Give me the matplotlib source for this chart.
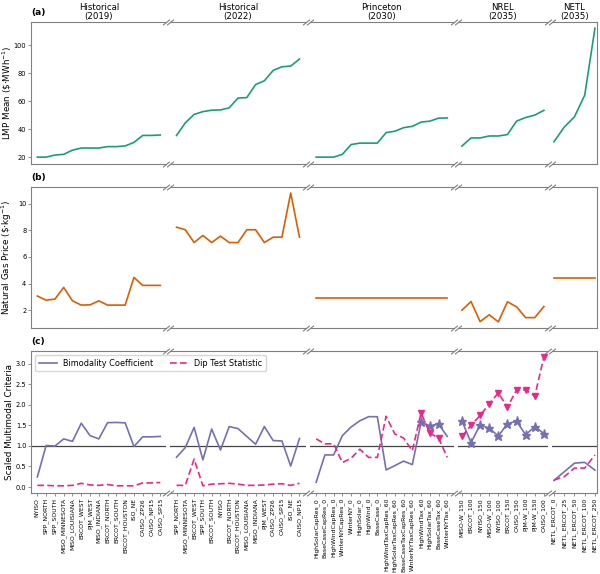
import numpy as np
import matplotlib.pyplot as plt
from matplotlib.lines import Line2D

titles = ['Historical\n(2019)', 'Historical\n(2022)', 'Princeton\n(2030)', 'NREL\n(2035)', 'NETL\n(2035)']

labels_2019 = ['NYISO', 'SPP_NORTH', 'SPP_SOUTH', 'MISO_MINNESOTA', 'MISO_LOUISIANA', 'ERCOT_WEST',
               'PJM_WEST', 'MISO_INDIANA', 'ERCOT_NORTH', 'ERCOT_SOUTH', 'ERCOT_HOUSTON', 'ISO_NE',
               'CAISO_ZP26', 'CAISO_NP15', 'CAISO_SP15']
labels_2022 = ['SPP_NORTH', 'MISO_MINNESOTA', 'ERCOT_WEST', 'SPP_SOUTH', 'ERCOT_SOUTH', 'NYISO',
               'ERCOT_NORTH', 'ERCOT_HOUSTON', 'MISO_LOUISIANA', 'MISO_INDIANA', 'PJM_WEST',
               'CAISO_ZP26', 'CAISO_SP15', 'ISO_NE', 'CAISO_NP15']
labels_princeton = ['HighSolarCapRes_0', 'BaseCaseCapRes_0', 'HighWindCapRes_0', 'WinterNYCapRes_0',
                    'WinterNY_0', 'HighSolar_0', 'HighWind_0', 'BaseCase_0', 'HighWindTaxCapRes_60',
                    'HighSolarTaxCapRes_60', 'BaseCaseTaxCapRes_60', 'WinterNYTaxCapRes_60',
                    'HighWindTax_60', 'HighSolarTax_60', 'BaseCaseTax_60', 'WinterNYTax_60']
labels_nrel = ['MISO-W_150', 'ERCOT_100', 'NYISO_150', 'MISO-W_100', 'NYISO_100', 'ERCOT_150',
               'CAISO_150', 'PJM-W_100', 'PJM-W_150', 'CAISO_100']
labels_netl = ['NETL_ERCOT_0', 'NETL_ERCOT_25', 'NETL_ERCOT_50', 'NETL_ERCOT_100', 'NETL_ERCOT_250']

# LMP mean
lmp_2019 = [20, 20, 21.5, 22, 25, 26.5, 26.5, 26.5, 27.5, 27.5, 28, 30.5, 35.5, 35.5, 35.8]
lmp_2022 = [35.5, 44.5, 50.5, 52.5, 53.5, 53.7, 55.2, 62.2, 62.5, 71.8, 74.5, 81.9, 84.5, 85, 90]
lmp_princeton = [20, 20, 20, 22, 29, 30, 30, 30, 37.5, 38.5, 41, 42, 45, 45.7, 47.8, 48]
lmp_nrel = [27.9, 33.7, 33.7, 35.1, 35.1, 36.1, 45.7, 48.3, 50, 53.4]
lmp_netl = [31, 41.4, 48.8, 64.2, 112]

# natural gas price
gas_2019 = [3.06, 2.75, 2.83, 3.71, 2.7, 2.38, 2.4, 2.7, 2.38, 2.38, 2.38, 4.46, 3.86, 3.86, 3.86]
gas_2022 = [8.23, 8.04, 7.08, 7.61, 7.08, 7.56, 7.08, 7.08, 8.04, 8.04, 7.08, 7.48, 7.48, 10.8, 7.48]
gas_princeton = [2.95] * 16
gas_nrel = [2.0, 2.65, 1.14, 1.65, 1.12, 2.63, 2.25, 1.44, 1.44, 2.27]
gas_netl = [4.41] * 5

# bimodality coefficient
bc_2019 = [0.245, 1.01, 0.995, 1.17, 1.11, 1.55, 1.25, 1.17, 1.565, 1.57, 1.56, 0.985, 1.22, 1.22, 1.23]
bc_2022 = [0.725, 0.96, 1.45, 0.66, 1.41, 0.9, 1.47, 1.42, 1.23, 1.04, 1.47, 1.13, 1.12, 0.51, 1.18]
bc_princeton = [0.115, 0.78, 0.78, 1.25, 1.46, 1.61, 1.71, 1.71, 0.415, 0.52, 0.63, 0.545,
                1.57, 1.49, 1.53, 1.23]
bc_nrel = [1.61, 1.08, 1.51, 1.43, 1.24, 1.54, 1.60, 1.27, 1.47, 1.30]
bc_netl = [0.16, 0.37, 0.58, 0.60, 0.41]

# dip test statistic
dip_2019 = [0.04, 0.04, 0.03, 0.03, 0.04, 0.09, 0.05, 0.04, 0.06, 0.03, 0.03, 0.03, 0.1, 0.1, 0.11]
dip_2022 = [0.04, 0.04, 0.68, 0.03, 0.07, 0.08, 0.09, 0.07, 0.04, 0.04, 0.05, 0.07, 0.08, 0.04, 0.09]
dip_princeton = [1.17, 1.05, 1.05, 0.595, 0.7, 0.92, 0.72, 0.72, 1.72, 1.29, 1.19, 0.88,
                 1.80, 1.31, 1.19, 0.72]
dip_nrel = [1.23, 1.50, 1.74, 2.02, 2.29, 1.94, 2.36, 2.36, 2.21, 3.16]
dip_netl = [0.17, 0.25, 0.46, 0.46, 0.78]

labels = [labels_2019, labels_2022, labels_princeton, labels_nrel, labels_netl]
lmp = [lmp_2019, lmp_2022, lmp_princeton, lmp_nrel, lmp_netl]
gas = [gas_2019, gas_2022, gas_princeton, gas_nrel, gas_netl]
bc = [bc_2019, bc_2022, bc_princeton, bc_nrel, bc_netl]
dip = [dip_2019, dip_2022, dip_princeton, dip_nrel, dip_netl]

c_lmp = '#1b9e77'
c_gas = '#d95f02'
c_bc = '#7570b3'
c_dip = '#e7298a'
spine_c = '#808080'

fig = plt.figure(figsize=(6, 5.74), dpi=100)
gs = fig.add_gridspec(3, 5, width_ratios=[len(l) for l in labels],
                      left=0.052, right=0.995, top=0.962, bottom=0.141,
                      hspace=0.162, wspace=0.036)

axes = np.empty((3, 5), dtype=object)
for r in range(3):
    for c in range(5):
        if c == 0:
            axes[r, c] = fig.add_subplot(gs[r, c])
        else:
            axes[r, c] = fig.add_subplot(gs[r, c], sharey=axes[r, 0])

tick_fs = 4.8
xtick_fs = 4.4
label_fs = 6.3
d = .8
brk = dict(marker=[(-1, -d), (1, d)], markersize=5, linestyle='none',
           color=spine_c, mec=spine_c, mew=0.8, clip_on=False)

for c in range(5):
    n = len(labels[c])
    x = np.arange(n)
    axes[0, c].plot(x, lmp[c], color=c_lmp, lw=1.2)
    axes[1, c].plot(x, gas[c], color=c_gas, lw=1.2)
    b = np.array(bc[c])
    p = np.array(dip[c])
    both = list((b > 1) & (p > 1))
    ax = axes[2, c]
    ax.axhline(1, color='#444444', lw=0.9, zorder=1)
    ax.plot(x, b, color=c_bc, lw=1.2, marker='*', markersize=6.5, markevery=both)
    ax.plot(x, p, color=c_dip, lw=1.2, ls='--', dashes=(4, 2), marker='v', markersize=5,
            markevery=both)
    ax.set_xticks(x)
    ax.set_xticklabels(labels[c], rotation=90, fontsize=xtick_fs)
    axes[0, c].set_title(titles[c], fontsize=6.2, pad=2, linespacing=1.0)

    for r in range(3):
        a = axes[r, c]
        a.margins(x=0.05)
        for s in a.spines.values():
            s.set_color(spine_c)
            s.set_linewidth(0.8)
        if c > 0:
            a.spines['left'].set_visible(False)
            a.tick_params(axis='y', left=False, labelleft=False)
            a.plot([0, 0], [0, 1], transform=a.transAxes, **brk)
        if c < 4:
            a.spines['right'].set_visible(False)
            a.plot([1, 1], [0, 1], transform=a.transAxes, **brk)
        a.tick_params(axis='y', labelsize=tick_fs, length=2, width=0.6, color=spine_c, pad=1.5)
        if r < 2:
            a.tick_params(axis='x', bottom=False, labelbottom=False)
        else:
            a.tick_params(axis='x', length=2, width=0.6, color=spine_c, pad=1.5)

axes[2, 0].set_ylim(-0.147, 3.30)
axes[2, 0].set_yticks([0, 0.5, 1.0, 1.5, 2.0, 2.5, 3.0])
axes[0, 0].set_yticks([20, 40, 60, 80, 100])
axes[1, 0].set_yticks([2, 4, 6, 8, 10])

axes[0, 0].set_ylabel(r'LMP Mean (\$$\cdot$MWh$^{-1}$)', fontsize=label_fs)
axes[1, 0].set_ylabel(r'Natural Gas Price (\$$\cdot$kg$^{-1}$)', fontsize=label_fs)
axes[2, 0].set_ylabel('Scaled Multimodal Criteria', fontsize=label_fs)
for r in range(3):
    axes[r, 0].yaxis.set_label_coords(-0.125, 0.5)

for r, tag in enumerate(['(a)', '(b)', '(c)']):
    axes[r, 0].text(0, 1.035, tag, transform=axes[r, 0].transAxes, fontsize=6.5,
                    fontweight='bold', va='bottom', ha='left')

handles = [Line2D([], [], color=c_bc, lw=1.2),
           Line2D([], [], color=c_dip, lw=1.2, ls='--', dashes=(4, 2))]
axes[2, 0].set_zorder(10)
axes[2, 0].legend(handles, ['Bimodality Coefficient', 'Dip Test Statistic'],
                  loc='upper left', ncol=2, fontsize=5.9, frameon=True, handlelength=2.2,
                  borderpad=0.4, columnspacing=2.0, bbox_to_anchor=(0.0, 1.0))

fig.savefig('out.png', dpi=100)
